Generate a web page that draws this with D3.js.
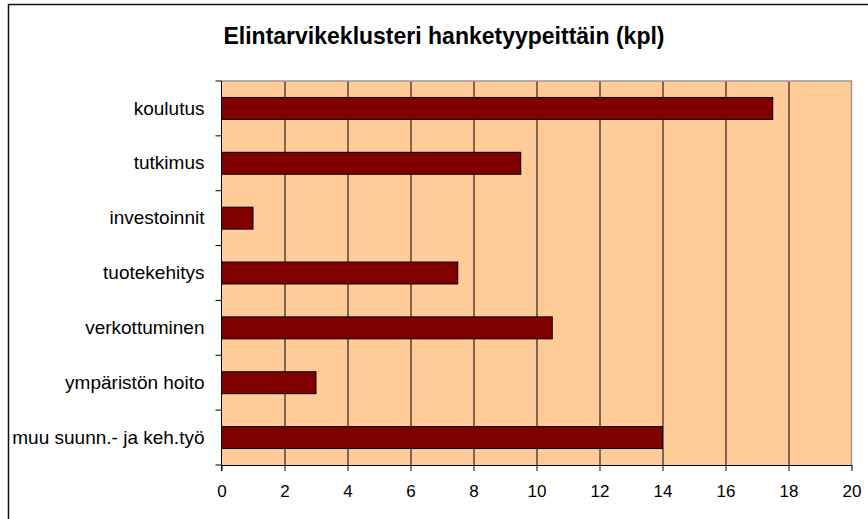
<!DOCTYPE html>
<html>
<head>
<meta charset="utf-8">
<script src="https://cdn.jsdelivr.net/npm/d3@7"></script>
<style>
  body { margin: 0; background: #fff; }
  text { font-family: Arial, "Liberation Sans", sans-serif; }
</style>
</head>
<body>
<script>
// chart data
var categories = ["koulutus", "tutkimus", "investoinnit", "tuotekehitys",
  "verkottuminen", "ympäristön hoito", "muu suunn.- ja keh.työ"];
var values = [17.5, 9.5, 1, 7.5, 10.5, 3, 14];
var xTicks = [0, 2, 4, 6, 8, 10, 12, 14, 16, 18, 20];
var title = "Elintarvikeklusteri hanketyypeittäin (kpl)";

var svgWidth = 868;
var svgHeight = 519;

var margin = { top: 81, right: 16.5, bottom: 54, left: 221.5 };
var width = svgWidth - margin.left - margin.right;
var height = svgHeight - margin.top - margin.bottom;

var svg = d3.select("body")
  .append("svg")
  .attr("width", svgWidth)
  .attr("height", svgHeight);

// outer chart frame (runs off the right/bottom edge)
svg.append("rect")
  .attr("x", 8.5)
  .attr("y", 4.5)
  .attr("width", svgWidth + 20)
  .attr("height", svgHeight + 20)
  .attr("fill", "none")
  .attr("stroke", "#111")
  .attr("stroke-width", 1.5);

svg.append("text")
  .attr("x", 444)
  .attr("y", 43.5)
  .attr("text-anchor", "middle")
  .style("font-size", "23px")
  .style("font-weight", "bold")
  .text(title);

var chartGroup = svg.append("g")
  .attr("transform", `translate(${margin.left}, ${margin.top})`);

var xscale = d3.scaleLinear()
  .domain([0, 20])
  .range([0, width]);

var yscale = d3.scaleBand()
  .domain(categories)
  .range([0, height])
  .paddingInner(0.6)
  .paddingOuter(0.3);

// plot background
chartGroup.append("rect")
  .attr("width", width)
  .attr("height", height)
  .attr("fill", "#ffcc99");

// vertical gridlines
chartGroup.selectAll(".grid")
  .data(xTicks.filter(d => d > 0 && d < 20))
  .enter()
  .append("line")
  .attr("x1", d => Math.round(xscale(d)) + 0.5)
  .attr("x2", d => Math.round(xscale(d)) + 0.5)
  .attr("y1", 0)
  .attr("y2", height)
  .attr("stroke", "#000")
  .attr("stroke-width", 1);

// plot border top + right (grey)
chartGroup.append("path")
  .attr("d", `M0,0H${width}V${height}`)
  .attr("fill", "none")
  .attr("stroke", "#999")
  .attr("stroke-width", 1.5);

// bars
chartGroup.selectAll(".bar")
  .data(values)
  .enter()
  .append("rect")
  .attr("x", 0)
  .attr("y", (d, i) => yscale(categories[i]))
  .attr("width", d => xscale(d))
  .attr("height", yscale.bandwidth())
  .attr("fill", "#800000")
  .attr("stroke", "#000")
  .attr("stroke-width", 1);

// x axis
var bottomAxis = d3.axisBottom(xscale)
  .tickValues(xTicks)
  .tickSize(6)
  .tickPadding(14)
  .tickSizeOuter(0);
var xg = chartGroup.append("g")
  .attr("transform", `translate(0, ${height})`)
  .call(bottomAxis);
xg.select(".domain").attr("stroke", "#000");
xg.selectAll("text")
  .style("font-size", "17px")
  .attr("fill", "#000");

// y axis labels
var leftAxis = d3.axisLeft(yscale)
  .tickSize(0)
  .tickPadding(17);
var yg = chartGroup.append("g").call(leftAxis);
yg.select(".domain").remove();
yg.selectAll("text")
  .style("font-size", "19px")
  .attr("fill", "#000");

// y axis line + ticks between categories
var boundaries = d3.range(categories.length + 1);
chartGroup.selectAll(".ytick")
  .data(boundaries)
  .enter()
  .append("line")
  .attr("x1", -6)
  .attr("x2", 0)
  .attr("y1", d => d * yscale.step())
  .attr("y2", d => d * yscale.step())
  .attr("stroke", "#000");

chartGroup.append("line")
  .attr("x1", 0)
  .attr("x2", 0)
  .attr("y1", 0)
  .attr("y2", height + 6)
  .attr("stroke", "#000");
</script>
</body>
</html>
